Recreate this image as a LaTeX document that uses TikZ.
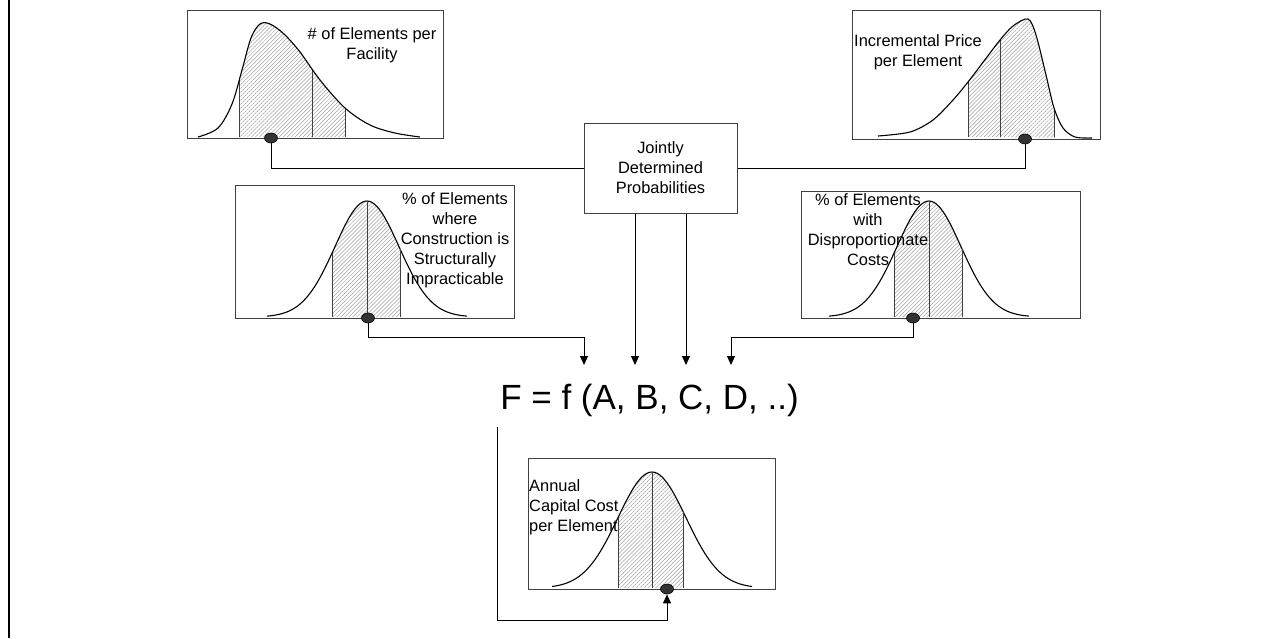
\documentclass[tikz,border=0pt]{standalone}
\usepackage{fontspec}
\setmainfont{Liberation Sans}
\usetikzlibrary{arrows.meta,patterns.meta,shapes.geometric}
\tikzset{
 frame/.style={draw=black!75, line width=1pt},
 curve/.style={draw=black, line width=1.1pt},
 hatch/.style={pattern={Lines[angle=45,distance=2.8pt,line width=0.5pt]}, pattern color=black!38},
 divider/.style={draw=black!75, line width=1pt},
 dot/.style={ellipse, draw=black, fill=black!80, line width=0.6pt, minimum width=13pt, minimum height=10pt, inner sep=0pt},
 conn/.style={draw=black, line width=0.9pt},
 arr/.style={conn, -{Triangle[width=8pt,length=9pt]}},
 lbl/.style={font=\fontsize{16.4}{20}\selectfont, align=center, inner sep=0pt},
}
\newcommand\drawbell[6]{%
 \fill[hatch] plot[domain=#5:#6,samples=40,smooth] ({#1+\x},{#2-#3*exp(-(\x*\x)/#4)}) -- ({#1+(#6)},#2) -- ({#1+(#5)},#2) -- cycle;
 \draw[curve] plot[domain=-100:100,samples=81,smooth] ({#1+\x},{#2-#3*exp(-(\x*\x)/#4)});
 \foreach \v in {#5,0,#6} \draw[divider] ({#1+(\v)},#2) -- ({#1+(\v)},{#2-#3*exp(-((\v)*(\v))/#4)});
}
\newcommand\curveA{plot[smooth,tension=0.55] coordinates{(198,137) (218,128) (232,104) (242,70) (251,38) (260,24) (270,24) (284,34) (300,52) (320,80) (345,108) (370,125) (395,133) (420,137)}}
\newcommand\curveB{plot[smooth,tension=0.5] coordinates{(878,136) (910,132) (933,120) (953,100) (968,82) (987,57) (1000,40) (1013,26) (1028,19) (1036,35) (1046,75) (1054,108) (1063,128) (1075,137) (1092,138)}}
\begin{document}
\begin{tikzpicture}[x=1pt,y=-1pt]
\useasboundingbox (0,0) rectangle (1285,638);
\draw[line width=2pt] (9,0) -- (9,638);

% distribution 1
\begin{scope}\clip (239,0) rectangle (345,140); \fill[hatch] \curveA -- cycle; \end{scope}
\begin{scope}\clip \curveA -- cycle;
 \draw[divider] (239,140) -- (239,0); \draw[divider] (312,140) -- (312,0); \draw[divider] (345,140) -- (345,0);
\end{scope}
\draw[curve] \curveA;
\node[frame, minimum width=256, minimum height=128, inner sep=0] (b1) at (315,74) {};

% distribution 2
\begin{scope}\clip (968,0) rectangle (1054,140); \fill[hatch] \curveB -- cycle; \end{scope}
\begin{scope}\clip \curveB -- cycle;
 \draw[divider] (968,140) -- (968,0); \draw[divider] (1000,140) -- (1000,0); \draw[divider] (1054,140) -- (1054,0);
\end{scope}
\draw[curve] \curveB;
\node[frame, minimum width=248, minimum height=129, inner sep=0] (b2) at (976,74.5) {};

% distributions 3,4,5
\drawbell{367}{317}{116}{2048}{-35}{33}
\node[frame, minimum width=279, minimum height=133, inner sep=0] (b3) at (374.5,251.5) {};
\drawbell{929}{317}{116}{2048}{-35}{33}
\node[frame, minimum width=279, minimum height=127, inner sep=0] (b4) at (940.5,254.5) {};
\drawbell{652}{588}{116}{2312}{-34}{31}
\node[frame, minimum width=247, minimum height=131, inner sep=0] (b5) at (651.5,523.5) {};

% labels
\node[lbl] (l1) at (372,45) {\# of Elements per\\Facility};
\node[lbl] (l2) at (918,52) {Incremental Price\\per Element};
\node[lbl] (l3) at (455,240) {\% of Elements\\where\\Construction is\\Structurally\\Impracticable};
\node[lbl] (l4) at (868,230) {\% of Elements\\with\\Disproportionate\\Costs};
\node[lbl, align=left, anchor=west] (l5) at (529,507) {Annual\\Capital Cost\\per Element};

% jointly box
\node[frame, lbl, minimum width=153, minimum height=90] (jb) at (660.5,168) {Jointly\\Determined\\Probabilities};

% formula
\node[font=\fontsize{35}{42}\selectfont, anchor=base, inner sep=0] (F) at (649.5,409) {F = f (A, B, C, D, ..)};

% dots
\node[dot] (d1) at (271,138) {};
\node[dot] (d2) at (1025,139) {};
\node[dot] (d3) at (368,318) {};
\node[dot] (d4) at (913,318) {};
\node[dot] (d5) at (667,589) {};

% coordinates
\coordinate (tA) at (584,365);
\coordinate (tB) at (635,365);
\coordinate (tC) at (686,365);
\coordinate (tD) at (731,365);
\coordinate (k3) at (584,337);
\coordinate (k4) at (731,337);
\coordinate (s5) at (497,427);
\coordinate (k5) at (497,620);

% connectors
\draw[conn] (d1.south) |- (jb.west);
\draw[conn] (d2.south) |- (jb.east);
\draw[arr] (d3.south) |- (k3) -- (tA);
\draw[arr] (jb.south -| tB) -- (tB);
\draw[arr] (jb.south -| tC) -- (tC);
\draw[arr] (d4.south) |- (k4) -- (tD);
\draw[arr] (s5) -- (k5) -| (d5.south);
\end{tikzpicture}
\end{document}
